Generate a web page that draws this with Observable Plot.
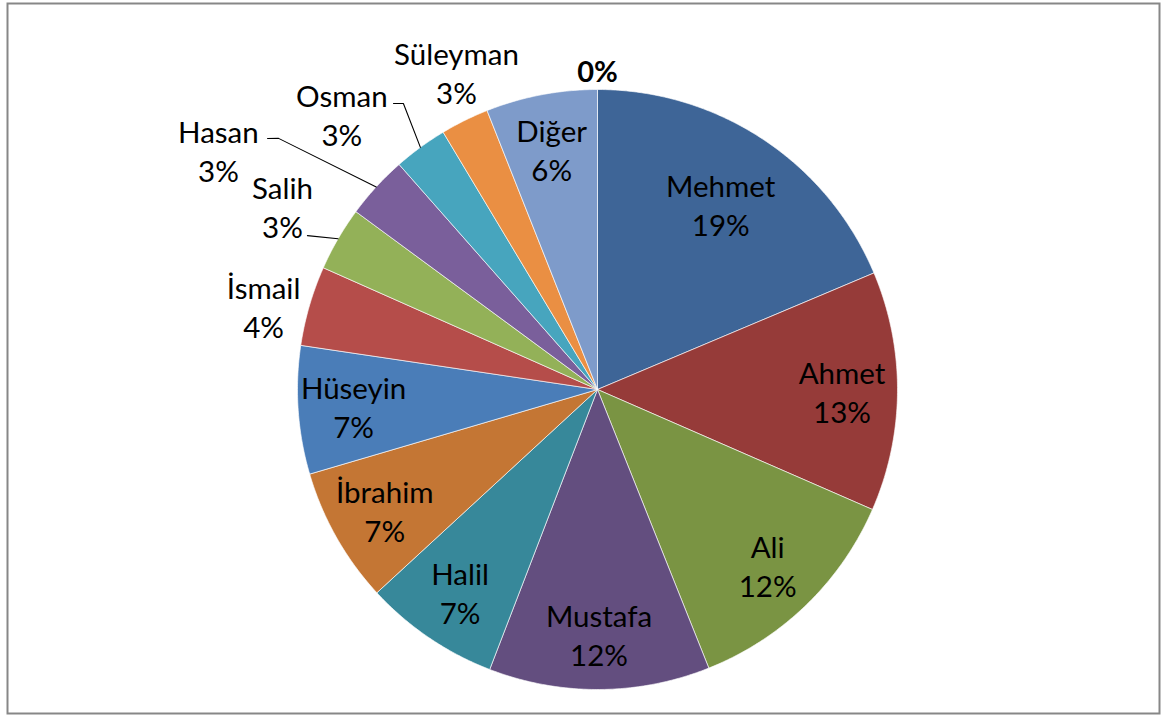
<!DOCTYPE html>
<html><head><meta charset="utf-8">
<script src="https://cdn.jsdelivr.net/npm/d3@7"></script>
<script src="https://cdn.jsdelivr.net/npm/@observablehq/plot@0.6"></script>
<style>body{margin:0;background:#fff;} svg{display:block;}</style>
</head><body><div id="chart"></div>
<script>
// ---- data ----
const names = ["Mehmet","Ahmet","Ali","Mustafa","Halil","İbrahim","Hüseyin","İsmail","Salih","Hasan","Osman","Süleyman","Diğer",""];
const values = [18.65,12.9,12.4,11.9,7.3,7.3,6.9,4.3,3.45,3.4,2.9,2.6,6.0,0];
const colors = ["#3E6597","#963B39","#7A9443","#634E7F","#37889A","#C47634","#4A7DB8","#B54D4A","#93B158","#7A5F9B","#47A5BE","#EA8F43","#7E9BCA","#D99694"];

// ---- layout (pie centre / radius in px, label placement in polar terms) ----
const W = 1176, H = 715, CX = 597, CY = 389, R = 300;
const insideR = 0.815;
const labelLayout = {
  "Mehmet": {r: 0.743},
  "İsmail": {a: 284.0, r: 1.147},
  "Salih": {a: 300.2, r: 1.215},
  "Hasan": {a: 302.3, r: 1.495},
  "Osman": {a: 317.1, r: 1.252},
  "Süleyman": {a: 336.05, r: 1.158},
  "": {a: 0, r: 1.057}
};
const leaderLayout = {
  "Salih": [[297.95, 1.0946]],
  "Hasan": [[307.27, 1.382], [308.22, 1.353]],
  "Osman": [[324.5, 1.171], [325.83, 1.152]]
};

const total = d3.sum(values);
let acc = 0;
const slices = names.map((name, i) => {
  const a0 = acc / total * 360; acc += values[i]; const a1 = acc / total * 360;
  return {name, value: values[i], a0, a1, mid: (a0 + a1) / 2, pct: Math.round(values[i] / total * 100) + "%"};
});
const polar = (a, r) => ({x: r * Math.sin(a * Math.PI / 180), y: r * Math.cos(a * Math.PI / 180)});

const slicePts = slices.filter(s => s.value > 0).flatMap(s => {
  const n = Math.max(2, Math.ceil((s.a1 - s.a0) / 0.5));
  const pts = [{name: s.name, x: 0, y: 0}];
  for (let k = 0; k <= n; k++) pts.push({name: s.name, ...polar(s.a0 + (s.a1 - s.a0) * k / n, 1)});
  pts.push({name: s.name, x: 0, y: 0});
  return pts;
});

const labels = slices.map(s => {
  const L = labelLayout[s.name] || {};
  const p = polar(L.a ?? s.mid, L.r ?? insideR);
  return {...p, text: s.name ? s.name + "\n" + s.pct : s.pct, bold: !s.name};
});

const leaders = Object.entries(leaderLayout).flatMap(([name, pts]) => {
  const s = slices.find(d => d.name === name);
  return [...pts.map(([a, r]) => ({name, ...polar(a, r)})), {name, ...polar(s.mid, 1)}];
});

const chart = Plot.plot({
  width: W, height: H, margin: 0,
  x: {domain: [-CX / R, (W - CX) / R], range: [0, W], axis: null},
  y: {domain: [(CY - H) / R, CY / R], range: [H, 0], axis: null},
  color: {domain: names, range: colors},
  style: {fontFamily: "Lato, 'Open Sans', sans-serif", background: "white"},
  marks: [
    Plot.frame({stroke: "#878787", strokeWidth: 2, insetLeft: 7, insetTop: 3, insetRight: 17, insetBottom: 2}),
    Plot.line(slicePts, {x: "x", y: "y", z: "name", fill: "name", stroke: "white", strokeWidth: 0.8, strokeOpacity: 0.8, curve: "linear"}),
    Plot.line(leaders, {x: "x", y: "y", z: "name", stroke: "black", strokeWidth: 1.1, curve: "linear"}),
    Plot.text(labels.filter(d => !d.bold), {x: "x", y: "y", text: "text", fontSize: 29.5, lineHeight: 1.32, fill: "black"}),
    Plot.text(labels.filter(d => d.bold), {x: "x", y: "y", text: "text", fontSize: 29, fontWeight: "bold", fill: "black"})
  ]
});
document.getElementById("chart").append(chart);
</script>
</body></html>
